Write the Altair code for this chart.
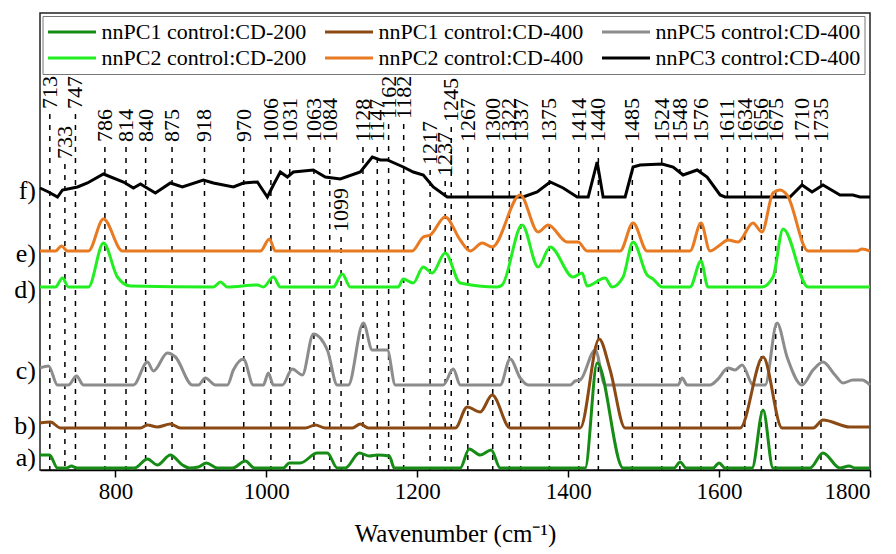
import altair as alt
import pandas as pd

# ---- series definitions ----
series_names = ["nnPC1 control:CD-200", "nnPC1 control:CD-400", "nnPC5 control:CD-400",
                "nnPC2 control:CD-200", "nnPC2 control:CD-400", "nnPC3 control:CD-400"]
series_colors = ["#168c16", "#8b4a14", "#8c8c8c", "#22ee22", "#e87a22", "#000000"]
trace_tags = ["a)", "b)", "c)", "d)", "e)", "f)"]
trace_offsets = [2, 42, 85, 183, 219, 273]

# a) nnPC1 control:CD-200
wn_a = [700, 712.6, 723.2, 735.1, 741.7, 748.3, 825.2, 842.4, 855.6, 872.8, 888.7, 898.0, 909.9, 920.5,
        935.1, 955.0, 972.2, 984.1, 1022.5, 1030.4, 1045.0, 1067.5, 1080.8, 1094.0, 1104.6, 1123.2,
        1136.4, 1147.0, 1162.9, 1169.5, 1256.9, 1268.8, 1283.4, 1298.0, 1309.9, 1422.5, 1438.4, 1472.8,
        1540.4, 1548.3, 1556.3, 1592.0, 1600.0, 1607.9, 1643.7, 1658.3, 1671.5, 1720.5, 1737.7, 1760.2,
        1772.2, 1780.1, 1800]
int_a = [13, 13, 0, 0, 2, 0, 0, 9, 3, 13, 3, 0, 1, 5,
         0, 0, 7, 0, 0, 5, 5, 15, 15, 0, 0, 15,
         12, 13, 12, 0, 0, 19, 13, 18, 0, 0, 105, 0,
         0, 6, 0, 0, 5, 0, 0, 58, 0, 0, 15, 0,
         2, 0, 0]

# b) nnPC1 control:CD-400
wn_b = [700, 713.9, 727.2, 833.1, 842.4, 855.6, 872.8, 886.1, 1051.6, 1064.9, 1078.1, 1113.9, 1124.5,
        1135.1, 1250.3, 1266.2, 1283.4, 1299.3, 1323.1, 1415.9, 1441.0, 1455.6, 1475.5, 1627.9, 1658.3,
        1683.5, 1724.6, 1737.7, 1773.5, 1800]
int_b = [5, 6, 0, 0, 3, 1, 4, 0, 0, 3, 0, 0, 4,
         0, 0, 21, 16, 33, 0, 0, 89, 58, 0, 0, 71,
         0, 0, 8, 1, 1]

# c) nnPC5 control:CD-400
wn_c = [700, 711.3, 723.2, 737.7, 748.3, 757.6, 823.8, 842.4, 850.3, 868.9, 879.5, 902.0, 909.9, 919.2,
        932.5, 948.3, 956.3, 969.5, 982.8, 996.0, 1002.6, 1009.3, 1021.2, 1034.4, 1047.7, 1062.3, 1080.8,
        1094.0, 1108.6, 1128.5, 1140.4, 1160.3, 1170.9, 1234.5, 1247.7, 1257.0, 1309.9, 1323.1, 1336.4,
        1347.0, 1402.6, 1409.3, 1415.9, 1435.8, 1449.0, 1545.7, 1551.0, 1557.6, 1588.1, 1597.4, 1612.0,
        1621.2, 1630.5, 1645.1, 1661.0, 1676.8, 1690.1, 1709.9, 1724.5, 1737.7, 1753.6, 1764.2, 1777.4,
        1789.4, 1800]
int_c = [17, 19, 0, 0, 9, 0, 0, 23, 14, 32, 28, 0, 0, 7,
         0, 0, 15, 26, 0, 0, 12, 0, 0, 16, 10, 51, 35,
         0, 0, 62, 35, 35, 0, 0, 16, 0, 0, 26, 7,
         0, 0, 4, 5, 35, 0, 0, 7, 0, 0, 5, 17,
         15, 20, 0, 0, 62, 28, 0, 15, 23, 10, 2, 5,
         5, 0]

# d) nnPC2 control:CD-200
wn_d = [700, 720.5, 729.8, 737.7, 764.2, 784.1, 802.6, 819.9, 929.8, 939.1, 948.3, 988.1, 996.0, 1009.3,
        1018.5, 1088.7, 1100.6, 1111.2, 1174.8, 1181.4, 1194.6, 1207.9, 1219.8, 1237.0, 1256.9, 1305.9,
        1312.5, 1339.0, 1360.2, 1376.1, 1406.6, 1418.5, 1425.1, 1448.9, 1458.2, 1472.8, 1486.0, 1504.6,
        1512.5, 1524.4, 1561.5, 1576.0, 1585.3, 1656.8, 1671.5, 1684.8, 1717.9, 1800]
int_d = [0, 0, 9, 0, 0, 44, 10, 1, 0, 5, 0, 2, 0, 10,
         0, 0, 13, 0, 0, 8, 4, 20, 14, 34, 4, 0,
         2, 62, 20, 40, 10, 14, 1, 9, 0, 10, 45, 12,
         8, 0, 0, 26, 0, 0, 10, 58, 0, 0]

# e) nnPC2 control:CD-400
wn_e = [700, 720.5, 728.5, 736.4, 764.2, 784.1, 809.3, 992.1, 1004.0, 1011.9, 1193.3, 1207.9, 1217.2,
        1237.0, 1256.9, 1270.2, 1286.1, 1299.3, 1336.4, 1360.2, 1373.5, 1398.7, 1413.2, 1425.1, 1468.8,
        1486.0, 1504.6, 1561.5, 1576.0, 1587.9, 1601.2, 1611.8, 1625.0, 1644.9, 1656.8, 1671.5, 1680.7,
        1690.1, 1717.9, 1782.8, 1789.4, 1800]
int_e = [0, 0, 5, 0, 0, 32, 0, 0, 12, 0, 0, 14, 16,
         34, 11, 0, 8, 4, 56, 19, 26, 9, 9, 0, 0,
         28, 0, 0, 28, 0, 6, 11, 9, 28, 19, 58, 61,
         56, 0, 0, 2, 0]

# f) nnPC3 control:CD-400
wn_f = [700, 711.3, 723.2, 729.8, 749.7, 762.9, 784.1, 810.6, 823.8, 833.1, 852.9, 872.8, 888.7, 916.5,
        929.8, 956.3, 969.5, 988.1, 1001.3, 1009.3, 1018.5, 1027.8, 1035.8, 1062.3, 1078.1, 1098.0, 1124.5,
        1140.4, 1151.0, 1160.3, 1181.5, 1194.7, 1208.0, 1221.2, 1239.7, 1340.4, 1358.9, 1376.1, 1393.4,
        1411.9, 1426.5, 1438.4, 1446.3, 1475.5, 1486.0, 1495.4, 1524.5, 1539.1, 1552.3, 1570.9, 1584.1,
        1601.3, 1607.9, 1694.0, 1709.9, 1723.2, 1737.7, 1760.2, 1777.4, 1786.6, 1800]
int_f = [9, 5, 0, 7, 10, 14, 23, 15, 9, 13, 4, 14, 10, 17,
         14, 10, 14, 15, 0, 12, 25, 20, 25, 27, 20, 18, 25,
         40, 37, 37, 30, 25, 22, 10, 0, 0, 5, 15, 9,
         0, 0, 35, 0, 0, 30, 32, 33, 30, 22, 27, 20,
         2, 0, 0, 12, 5, 12, 2, 2, 0, 0]

# ---- peak annotations ----
peak_wn = [713, 733, 747, 786, 814, 840, 875, 918, 970, 1006, 1031, 1063, 1084, 1099, 1128, 1147,
           1162, 1182, 1217, 1237, 1245, 1267, 1300, 1322, 1337, 1375, 1414, 1440, 1485, 1524, 1548,
           1576, 1611, 1634, 1656, 1675, 1710, 1735]
peak_tier = ["top", "low", "top", "mid", "mid", "mid", "mid", "mid", "mid", "mid", "mid", "mid", "mid",
             "inner", "mid", "mid", "top4", "top4", "low2", "lower", "upper", "mid", "mid", "mid", "mid",
             "mid", "mid", "mid", "mid", "mid", "mid", "mid", "mid", "mid", "mid", "mid", "mid", "mid"]

tier_level = {"top": 361, "top4": 351, "upper": 348, "mid": 328, "low": 311, "low2": 305,
              "lower": 294, "inner": 238}

wns = [wn_a, wn_b, wn_c, wn_d, wn_e, wn_f]
ints = [int_a, int_b, int_c, int_d, int_e, int_f]

frames = {}
for name, off, wn, it in zip(series_names, trace_offsets, wns, ints):
    frames[name] = pd.DataFrame({"wn": wn, "val": [off + v for v in it], "series": name})

tag_df = pd.DataFrame({
    "tag": trace_tags,
    "val": [off + it[0] for off, it in zip(trace_offsets, ints)],
})

lab_df = pd.DataFrame({
    "wn": peak_wn,
    "txt": [str(w) for w in peak_wn],
    "top": [tier_level[t] for t in peak_tier],
})
lab_df["line_top"] = lab_df["top"] - 5

FONT = "Times New Roman, Liberation Serif, Times, serif"
x_scale = alt.Scale(domain=[700, 1800], nice=False, zero=False)
y_scale = alt.Scale(domain=[0, 457], nice=False, zero=False)
color_scale = alt.Scale(domain=series_names, range=series_colors)

x_axis = alt.Axis(values=[800, 1000, 1200, 1400, 1600, 1800], format="d",
                  title="Wavenumber (cm⁻¹)", labelFont=FONT, labelFontSize=23, labelColor="black",
                  titleFont=FONT, titleFontSize=25, titleFontWeight="normal", titleColor="black",
                  tickSize=7, tickColor="black", tickWidth=1.5, domainColor="black", domainWidth=1.5,
                  grid=False, labelPadding=3, titlePadding=18)

legend = alt.Legend(orient="none", legendX=2.5, legendY=3, direction="horizontal", columns=3,
                    title=None, symbolType="stroke", symbolSize=2304, symbolStrokeWidth=3,
                    clipHeight=24, labelFont=FONT, labelFontSize=22, labelColor="black",
                    labelOffset=4, columnPadding=17, rowPadding=2, padding=4,
                    strokeColor="#777777", fillColor="white", labelLimit=400)


def xenc():
    return alt.X("wn:Q", scale=x_scale, axis=x_axis)


def yenc(field):
    return alt.Y(field, scale=y_scale, axis=None)


rules = alt.Chart(lab_df).mark_rule(color="black", strokeDash=[5, 6], strokeWidth=1.5).encode(
    x=xenc(), y=yenc("line_top:Q"), y2=alt.datum(0))

texts = alt.Chart(lab_df).mark_text(angle=270, align="left", baseline="middle", font=FONT,
                                    fontSize=22, color="black").encode(
    x=xenc(), y=yenc("top:Q"), text="txt:N")

draw_order = ["nnPC3 control:CD-400", "nnPC5 control:CD-400", "nnPC1 control:CD-400",
              "nnPC2 control:CD-200", "nnPC2 control:CD-400", "nnPC1 control:CD-200"]
line_layers = []
for name in draw_order:
    interp = "linear" if name == "nnPC3 control:CD-400" else "monotone"
    line_layers.append(
        alt.Chart(frames[name]).mark_line(strokeWidth=3, interpolate=interp).encode(
            x=xenc(), y=yenc("val:Q"),
            color=alt.Color("series:N", scale=color_scale, legend=legend))
    )

tags = alt.Chart(tag_df).mark_text(align="right", baseline="middle", font=FONT, fontSize=26,
                                   color="black", dy=3).encode(
    x=alt.value(-4), y=yenc("val:Q"), text="tag:N")

chart = alt.layer(rules, texts, *line_layers, tags).properties(
    width=830, height=457, autosize="none",
    padding={"left": 40, "top": 13, "right": 26, "bottom": 84},
    background="white",
).configure_view(stroke="#222222", strokeWidth=1.5)

chart.save("out.html", embed_options={"renderer": "svg", "actions": False})
